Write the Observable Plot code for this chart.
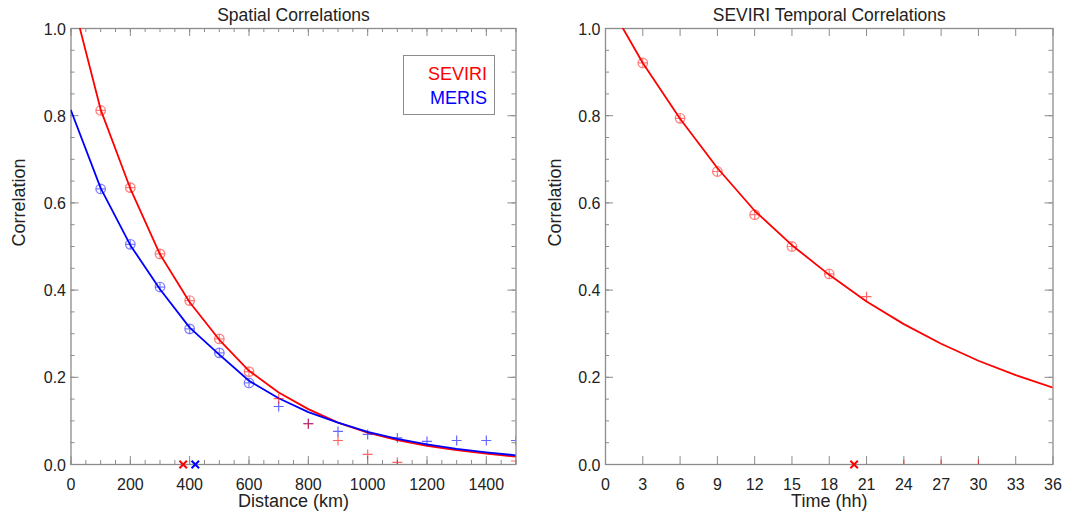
<!DOCTYPE html>
<html><head><meta charset="utf-8">
<script src="https://cdn.jsdelivr.net/npm/d3@7"></script>
<script src="https://cdn.jsdelivr.net/npm/@observablehq/plot@0.6"></script>
<style>
body{margin:0;background:#fff;}
#wrap{position:relative;width:1066px;height:514px;font-family:"Liberation Sans",Arial,Helvetica,sans-serif;overflow:hidden;}
#left,#right{position:absolute;top:0;}
#left{left:0}
#right{left:533px}
#legend{position:absolute;left:403px;top:55px;width:92px;height:60px;border:1px solid #8c8c8c;box-sizing:border-box;background:#fff;font-size:18px;text-align:right;padding:6px 7px 0 0;line-height:24px;}
</style>
</head><body>
<div id="wrap"><div id="left"></div><div id="right"></div>
<div id="legend"><div style="color:#ff0000">SEVIRI</div><div style="color:#0000ff">MERIS</div></div>
</div>
<script>
// ---- Spatial correlations (left) ----
const spatialLineX = [0,100,200,300,400,500,600,700,800,900,1000,1100,1200,1300,1400,1500];
const seviriLineY  = [1.08,0.814,0.633,0.482,0.372,0.286,0.215,0.165,0.127,0.096,0.073,0.056,0.043,0.033,0.025,0.018];
const merisLineY   = [0.812,0.634,0.503,0.402,0.314,0.252,0.192,0.152,0.120,0.096,0.075,0.059,0.046,0.036,0.028,0.021];

const seviriFitX = [100,200,300,400,500,600];
const seviriFitY = [0.812,0.635,0.483,0.376,0.288,0.213];
const merisFitX  = [100,200,300,400,500,600];
const merisFitY  = [0.632,0.505,0.407,0.311,0.256,0.187];

const seviriOtherX = [700,800,900,1000,1100,1500];
const seviriOtherY = [0.151,0.093,0.055,0.023,0.005,0.008];
const merisOtherX  = [700,800,900,1000,1100,1200,1300,1400,1500];
const merisOtherY  = [0.133,0.094,0.076,0.069,0.061,0.053,0.055,0.055,0.055];

const seviriZeroX = [378];
const merisZeroX  = [419];

const spatialTickLabels = [0,200,400,600,800,1000,1200,1400];
const spatialMajor = [0,200,400,600,800,1000,1200,1400];
const spatialMinor = d3.range(0,1501,50);

// ---- Temporal correlations (right) ----
const tempLineX = [0,3,6,9,12,15,18,21,24,27,30,33,36];
const tempLineY = [1.07,0.921,0.793,0.680,0.582,0.503,0.435,0.374,0.322,0.277,0.238,0.205,0.176];
const tempFitX  = [3,6,9,12,15,18];
const tempFitY  = [0.921,0.794,0.672,0.573,0.500,0.437];
const tempOtherX = [21,24,27,30];
const tempOtherY = [0.385,0.0,0.0,0.0];
const tempZeroX  = [20.0];
const tempTicks  = [0,3,6,9,12,15,18,21,24,27,30,33,36];

const yMajor = [0,0.2,0.4,0.6,0.8,1.0];
const yMinor = d3.range(0,1.0001,0.05);

const pts = (xs, ys) => xs.map((x,i) => ({x, y: ys[i]}));

const RED = "#ff0000", BLUE = "#0000ff";
const FRAME = "#8c8c8c";
const font = '"Liberation Sans", Arial, Helvetica, sans-serif';

function tickMarks(xMaj, xMin, fw, fh) {
  const m = [];
  m.push(Plot.tickX(xMaj, {x: d=>d, insetTop: fh-8, stroke: FRAME}));
  m.push(Plot.tickX(xMaj, {x: d=>d, insetBottom: fh-8, stroke: FRAME}));
  if (xMin) {
    m.push(Plot.tickX(xMin, {x: d=>d, insetTop: fh-4, stroke: FRAME}));
    m.push(Plot.tickX(xMin, {x: d=>d, insetBottom: fh-4, stroke: FRAME}));
  }
  m.push(Plot.tickY(yMajor, {y: d=>d, insetRight: fw-8, stroke: FRAME}));
  m.push(Plot.tickY(yMajor, {y: d=>d, insetLeft: fw-8, stroke: FRAME}));
  m.push(Plot.tickY(yMinor, {y: d=>d, insetRight: fw-4, stroke: FRAME}));
  m.push(Plot.tickY(yMinor, {y: d=>d, insetLeft: fw-4, stroke: FRAME}));
  return m;
}

function markers(data, color) {
  return [
    Plot.dot(data, {x:"x", y:"y", r: 4.8, stroke: color, strokeOpacity: 0.5, strokeWidth: 1.2}),
    Plot.dot(data, {x:"x", y:"y", symbol:"plus", r: 3.0, stroke: color, strokeOpacity: 0.5, strokeWidth: 1.2})
  ];
}

const ml = 70.5, mr = 17.5, mt = 28, mb = 50;
const fwL = 533 - ml - mr, fh = 514 - mt - mb;

const left = Plot.plot({
  width: 533, height: 514,
  marginLeft: ml, marginRight: mr, marginTop: mt, marginBottom: mb,
  x: {domain: [0,1500]},
  y: {domain: [0,1]},
  style: {fontFamily: font, fontSize: "16px", color: "#222", background: "white", overflow: "visible"},
  marks: [
    ...tickMarks(spatialMajor, spatialMinor, fwL, fh),
    Plot.frame({stroke: FRAME, strokeWidth: 1.3}),
    Plot.axisX({ticks: spatialTickLabels, tickSize: 0, tickPadding: 14, tickFormat: d => String(d), label: null, fontSize: 16}),
    Plot.axisY({ticks: yMajor, tickSize: 0, tickPadding: 5, tickFormat: d3.format(".1f"), label: null, fontSize: 16, dy: 1}),
    Plot.line(pts(spatialLineX, seviriLineY), {x:"x", y:"y", stroke: RED, strokeWidth: 1.8, clip: true}),
    Plot.line(pts(spatialLineX, merisLineY), {x:"x", y:"y", stroke: BLUE, strokeWidth: 1.8, clip: true}),
    ...markers(pts(seviriFitX, seviriFitY), RED),
    ...markers(pts(merisFitX, merisFitY), BLUE),
    Plot.dot(pts(merisOtherX, merisOtherY), {x:"x", y:"y", symbol:"plus", r: 3.3, stroke: BLUE, strokeOpacity: 0.6, strokeWidth: 1.2, clip: true}),
    Plot.dot(pts(seviriOtherX, seviriOtherY), {x:"x", y:"y", symbol:"plus", r: 3.3, stroke: RED, strokeOpacity: 0.6, strokeWidth: 1.2, clip: true}),
    Plot.dot(seviriZeroX, {x: d=>d, y: 0, symbol:"times", r: 3.5, stroke: RED, strokeWidth: 2}),
    Plot.dot(merisZeroX, {x: d=>d, y: 0, symbol:"times", r: 3.5, stroke: BLUE, strokeWidth: 2}),
    Plot.text(["Spatial Correlations"], {frameAnchor: "top", lineAnchor: "middle", dy: -13, fontSize: 17.5, fill: "#222"}),
    Plot.text(["Distance (km)"], {frameAnchor: "bottom", lineAnchor: "middle", dy: 37, fontSize: 18, fill: "#222"}),
    Plot.text(["Correlation"], {frameAnchor: "left", dx: -52, rotate: -90, fontSize: 18, fill: "#222"})
  ]
});
document.getElementById("left").append(left);

const mlR = 72, mrR = 13.5;
const fwR = 533 - mlR - mrR;
const right = Plot.plot({
  width: 533, height: 514,
  marginLeft: mlR, marginRight: mrR, marginTop: mt, marginBottom: mb,
  x: {domain: [0,36]},
  y: {domain: [0,1]},
  style: {fontFamily: font, fontSize: "16px", color: "#222", background: "white", overflow: "visible"},
  marks: [
    ...tickMarks(tempTicks, null, fwR, fh),
    Plot.frame({stroke: FRAME, strokeWidth: 1.3}),
    Plot.axisX({ticks: tempTicks, tickSize: 0, tickPadding: 14, tickFormat: d => String(d), label: null, fontSize: 16}),
    Plot.axisY({ticks: yMajor, tickSize: 0, tickPadding: 5, tickFormat: d3.format(".1f"), label: null, fontSize: 16, dy: 1}),
    Plot.line(pts(tempLineX, tempLineY), {x:"x", y:"y", stroke: RED, strokeWidth: 1.8, clip: true}),
    ...markers(pts(tempFitX, tempFitY), RED),
    Plot.dot(pts(tempOtherX, tempOtherY), {x:"x", y:"y", symbol:"plus", r: 3.3, stroke: RED, strokeOpacity: 0.6, strokeWidth: 1.2, clip: true}),
    Plot.dot(tempZeroX, {x: d=>d, y: 0, symbol:"times", r: 3.5, stroke: RED, strokeWidth: 2}),
    Plot.text(["SEVIRI Temporal Correlations"], {frameAnchor: "top", lineAnchor: "middle", dy: -13, fontSize: 17.5, fill: "#222"}),
    Plot.text(["Time (hh)"], {frameAnchor: "bottom", lineAnchor: "middle", dy: 37, fontSize: 18, fill: "#222"}),
    Plot.text(["Correlation"], {frameAnchor: "left", dx: -50, rotate: -90, fontSize: 18, fill: "#222"})
  ]
});
document.getElementById("right").append(right);
</script>
</body></html>
